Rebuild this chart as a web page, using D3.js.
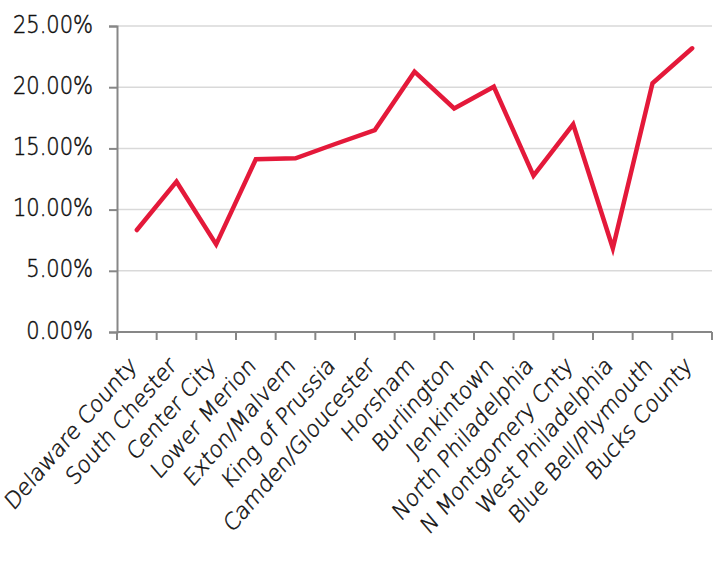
<!DOCTYPE html>
<html><head><meta charset="utf-8">
<script src="https://cdn.jsdelivr.net/npm/d3@7"></script>
<style>
html,body{margin:0;padding:0;background:#fff;}
text{font-family:"DejaVu Sans",sans-serif;font-weight:200;}
</style></head>
<body>
<svg id="chart" width="719" height="562"></svg>
<script>
const categories = ["Delaware County","South Chester","Center City","Lower Merion","Exton/Malvern","King of Prussia","Camden/Gloucester","Horsham","Burlington","Jenkintown","North Philadelphia","N Montgomery Cnty","West Philadelphia","Blue Bell/Plymouth","Bucks County"];
const values = [8.33, 12.28, 7.16, 14.11, 14.19, 15.36, 16.5, 21.27, 18.27, 20.04, 12.77, 16.97, 6.84, 20.32, 23.18];
const yTicks = [0, 5, 10, 15, 20, 25];

const svg = d3.select("#chart");
const m = {left:117, right:712, top:26, bottom:332};
const stretch = 1.16;

const x = d3.scaleBand().domain(categories).range([m.left, m.right]).padding(0);
const y = d3.scaleLinear().domain([0,25]).range([m.bottom, m.top]);

// gridlines
svg.append("g").selectAll("line").data(yTicks.filter(d=>d>0)).join("line")
  .attr("x1", m.left).attr("x2", m.right)
  .attr("y1", d=>y(d)).attr("y2", d=>y(d))
  .attr("stroke", "#d9d9d9").attr("stroke-width", 1.5);

// y axis
const yAxis = svg.append("g").attr("transform", `translate(${m.left},0)`)
  .call(d3.axisLeft(y).tickValues(yTicks).tickSize(8).tickPadding(8).tickFormat(d=>d.toFixed(2)+"%"));
yAxis.select(".domain").attr("stroke","#878787").attr("stroke-width",2);
yAxis.selectAll(".tick line").attr("stroke","#878787").attr("stroke-width",2);
yAxis.selectAll(".tick text")
  .attr("x", null).attr("dy", null)
  .attr("transform", `translate(-24,6) scale(1,${stretch})`)
  .attr("font-size",21).attr("fill","#111").attr("stroke","#111").attr("stroke-width",0.45)
  .attr("font-family","DejaVu Sans").style("font-weight","200");

// x axis with ticks at band edges
const xg = svg.append("g");
xg.append("line").attr("x1", m.left).attr("x2", m.right).attr("y1", m.bottom).attr("y2", m.bottom)
  .attr("stroke","#878787").attr("stroke-width",2);
const edges = categories.map(c=>x(c)).concat([x(categories[categories.length-1])+x.bandwidth()]);
xg.selectAll("line.tk").data(edges).join("line").attr("class","tk")
  .attr("x1", d=>d).attr("x2", d=>d).attr("y1", m.bottom).attr("y2", m.bottom+8)
  .attr("stroke","#878787").attr("stroke-width",2);
xg.selectAll("text").data(categories).join("text")
  .attr("transform", d=>`translate(${x(d)+x.bandwidth()/2+1},${m.bottom+35}) scale(1,${stretch}) rotate(-45)`)
  .attr("text-anchor","end")
  .attr("font-size",20.5).attr("fill","#111").attr("stroke","#111").attr("stroke-width",0.45)
  .text(d=>d);

// line
const line = d3.line().x((d,i)=>x(categories[i])+x.bandwidth()/2).y(d=>y(d));
svg.append("path").datum(values).attr("d", line)
  .attr("fill","none").attr("stroke","#E4193A").attr("stroke-width",4.5)
  .attr("stroke-linejoin","miter").attr("stroke-linecap","round");
</script>
</body></html>
